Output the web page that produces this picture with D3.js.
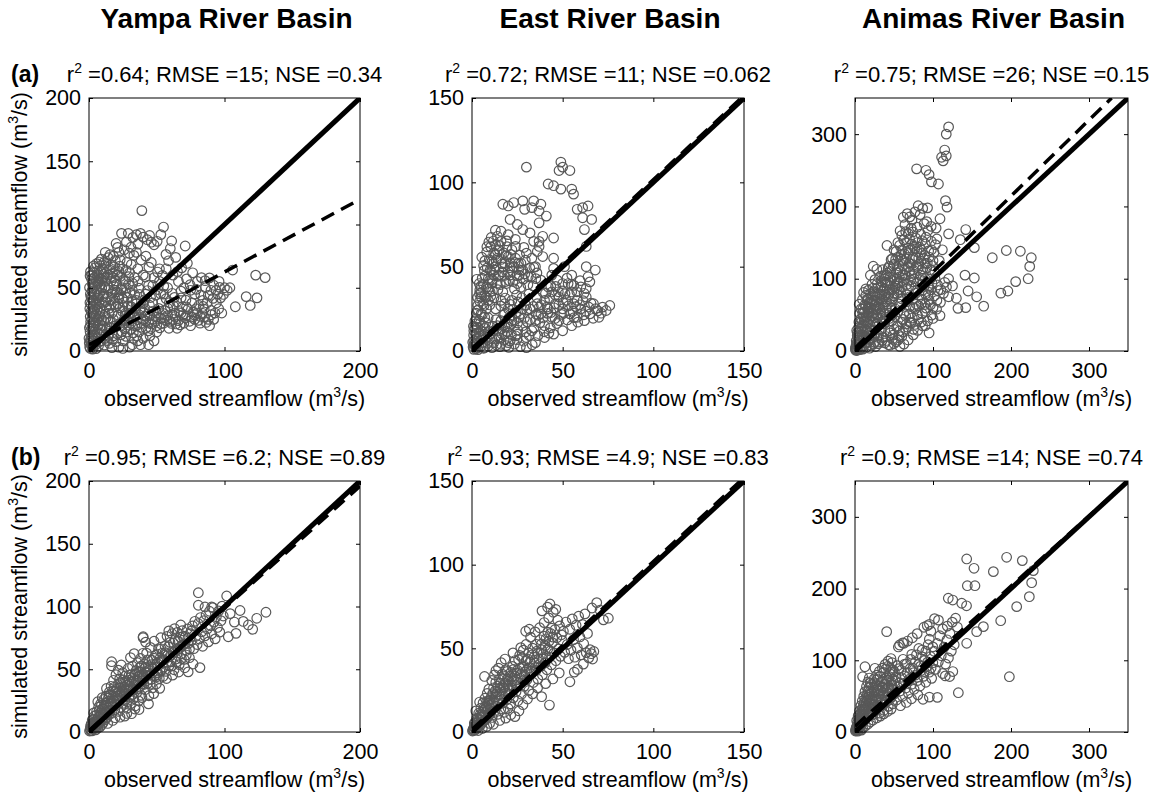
<!DOCTYPE html>
<html>
<head>
<meta charset="utf-8">
<script src="https://cdn.jsdelivr.net/npm/d3@7"></script>
<style>
  body { margin: 0; background: #fff; }
  text { font-family: "Liberation Sans", Arial, sans-serif; fill: #000; }
</style>
</head>
<body>
<div id="chart"></div>
<script>
// basins / columns
const basins = ["Yampa River Basin", "East River Basin", "Animas River Basin"];
const axisMax = [200, 150, 350];
const xTickVals = [[0, 100, 200], [0, 50, 100, 150], [0, 100, 200, 300]];
const yTickVals = [[0, 50, 100, 150, 200], [0, 50, 100, 150], [0, 100, 200, 300]];

// rows
const rowTags = ["(a)", "(b)"];
const r2 = [["0.64", "0.72", "0.75"], ["0.95", "0.93", "0.9"]];
const rmse = [["15", "11", "26"], ["6.2", "4.9", "14"]];
const nse = [["0.34", "0.062", "0.15"], ["0.89", "0.83", "0.74"]];

// regression (dashed) lines: [x0, y0, x1, y1]
const fitA = [[0, 5, 195, 117], [0, 1.5, 148.5, 150], [0, 4, 329, 350]];
const fitB = [[0, 1, 200, 196], [0, 1.5, 148, 150], [0, 8, 350, 350]];

// observed vs simulated points
const yampaA = [[1,2],[2,5],[3,8],[2,12],[4,15],[3,18],[5,22],[2,25],[4,28],[6,32],[3,35],[5,38],[7,42],[4,45],[6,48],[8,52],[5,55],[7,58],[9,62],[6,63],[10,65],[3,40],[8,30],[10,20],[12,10],[11,45],[12,55],[13,35],[14,25],[9,8],[7,4],[15,50],[14,60],[16,40],[1,20],[2,30],[1,45],[3,50],[4,58],[2,60],[11,70],[13,65],[16,68],[12,78],[18,58],[19,48],[17,30],[20,20],[18,12],[15,6],[22,3],[25,8],[6,15],[8,18],[0,10],[1,8],[5,5],[3,2],
  [20,35],[22,42],[24,50],[21,60],[25,65],[23,72],[28,70],[30,62],[27,55],[32,48],[35,40],[30,30],[26,25],[28,15],[33,10],[38,5],[35,20],[40,25],[42,18],[45,28],[38,33],[42,45],[44,52],[40,60],[36,65],[47,38],[48,58],[52,55],[55,45],[50,30],[55,22],[58,28],[60,35],[62,25],[65,18],[68,30],[70,22],[72,28],[75,20],[78,25],[80,30],[82,22],[85,27],[88,25],[90,32],[45,12],[50,15],[30,3],[15,14],[18,25],[25,35],[22,78],[26,80],[20,85],[18,75],[31,82],[24,93],[29,93],[35,92],[38,93],[40,90],[43,88],[46,86],[48,84],[53,92],[55,98],[39,111],[61,87],[60,81],[64,74],[71,83],[57,65],[62,60],[66,55],[70,50],[72,57],[75,48],[78,45],[80,55],[83,58],[86,50],[88,44],[90,48],[92,52],[95,45],[94,38],[97,42],[100,50],[96,55],[102,48],[98,30],[92,25],[85,33],[76,38],[68,42],[58,50],[52,65],[46,70],[42,75],[35,78],
  [106,64],[123,60],[130,58],[116,43],[124,42],[119,36],[108,35],[104,50],
  [24,20],[27,28],[31,22],[34,27],[37,15],[41,32],[44,22],[47,25],[50,20],[53,26],[56,32],[59,18],[63,30],[66,24],[69,35],[73,33],[77,31],[81,36],[84,40],[87,38],[89,20],[93,30],[25,2],[32,5],[36,8],[40,10],[44,5],[48,8],
  [0.5,3.2],[1.7,6.8],[2.4,11.5],[0.8,15.3],[3.6,19.7],[1.2,23.1],[4.8,26.4],[2.9,29.8],[0.6,33.5],[5.5,36.2],[3.1,39.6],[1.4,42.8],[6.3,44.1],[2.2,47.5],[4.4,51.2],[7.1,54.6],[1.9,56.9],[5.8,60.3],[8.6,57.2],[3.7,62.1],[9.4,49.8],[10.7,38.4],[11.9,29.1],[9.2,24.6],[6.9,20.3],[12.8,17.5],[13.6,42.7],[14.9,33.8],[15.7,22.9],[16.4,55.3],[17.2,46.1],[18.8,36.7],[19.5,63.4],[20.3,52.8],[21.6,28.3],[22.4,44.6],[23.1,58.9],[24.7,31.2],[10.2,57.6],[8.3,67.4],[12.5,69.2],[14.1,73.8],[17.9,66.5],[6.4,9.8],[4.1,12.6],[2.6,1.5],[8.8,13.9],[11.3,4.8],[13.7,8.2],[16.9,2.7],[19.8,7.4],[23.6,12.8],[26.3,17.6],[29.5,20.4],[32.7,14.3],[35.8,24.8],[38.9,18.7],[41.3,27.6],[43.8,15.9],[46.2,21.4],[49.7,26.8],[52.3,18.3],[54.8,29.7],[57.4,24.1],[60.9,21.8],[63.6,27.3],[67.2,20.7],[70.8,26.4],[74.3,23.5],[77.6,28.6],[80.7,24.2],[83.9,29.8],[86.4,22.6],[28.6,35.4],[31.8,39.2],[34.5,33.1],[37.3,44.8],[39.8,37.5],[26.9,46.3],[29.2,52.7],[33.6,58.2],[27.4,63.8],[31.2,68.4],[22.7,67.1],[19.4,71.6],[15.6,76.2],[21.1,81.9],[36.8,49.7],[44.6,36.2],[49.3,44.1],[53.6,38.7],[56.9,41.3],[61.4,45.6],[64.8,38.9],[67.9,47.3],[71.5,40.2],[74.6,52.4],[79.2,48.7],[82.5,44.3],[85.7,55.6],[88.9,57.8],[91.6,41.6],[93.8,47.9],[96.4,50.3],[99.2,44.7],[65.3,62.8],[68.4,65.7],[58.7,71.3],[54.2,59.8],[50.6,62.4],[47.1,51.8],[44.2,66.3],[41.7,58.5],[38.4,71.9],[33.1,75.6],[29.8,77.3],[27.6,86.2],[32.4,89.8],[36.1,84.5],[44.7,91.3],[50.3,86.7],[56.8,76.4],[72.6,69.3],[76.5,61.8],[84.3,35.2],[90.2,28.7],[95.7,33.4],[3.3,4.6],[5.2,1.9],[7.7,7.3],[0.3,18.4],[0.9,27.2],[1.6,36.9],[0.4,50.2],[2.8,54.3],[1.1,62.7],[4.6,65.8],[7.4,70.3]];
const yampaADense = [[0.7,38.2],[1.9,41.6],[2.5,52.8],[3.9,46.3],[4.3,33.4],[5.1,29.1],[5.9,41.8],[6.7,53.7],[7.5,37.4],[8.1,45.9],[8.9,33.6],[9.8,55.9],[10.4,43.1],[11.1,60.8],[11.8,50.6],[12.4,38.9],[13.2,58.3],[13.9,48.4],[14.5,29.7],[15.2,64.2],[15.9,36.2],[16.7,44.9],[17.4,61.3],[18.2,51.7],[18.9,41.9],[19.7,55.4],[20.6,46.7],[21.4,37.3],[22.1,62.9],[22.9,34.1],[23.8,48.2],[24.5,41.7],[25.3,55.6],[26.1,38.7],[26.8,29.6],[27.7,49.8],[28.4,42.3],[29.3,58.7],[30.2,45.8],[31.1,35.1],[32.3,53.4],[33.7,44.6],[34.9,37.4],[36.2,55.3],[37.6,31.9],[3.2,22.6],[4.9,17.1],[6.1,24.9],[7.9,27.8],[9.6,16.7],[10.9,23.8],[12.7,26.4],[14.2,12.3],[15.8,18.6],[17.6,9.6],[18.7,19.8],[20.9,13.4],[22.6,21.7],[24.2,15.3],[25.9,23.9],[27.3,11.6],[28.9,27.3],[30.8,16.9],[32.2,30.4],[33.9,19.8],[35.3,12.1],[36.9,28.7],[38.3,21.9],[39.7,30.8],[41.9,23.6],[43.4,29.3],[45.7,17.8],[47.3,31.6],[48.8,23.2],[51.4,33.7],[53.1,21.6],[55.6,26.2],[58.1,33.8],[59.7,23.4],[62.3,35.7],[64.2,21.4],[66.7,31.2],[69.4,28.6],[71.9,34.8],[75.8,26.7],[79.1,33.5],[82.2,27.3],[41.1,40.6],[43.1,47.8],[45.4,42.3],[50.8,48.6],[52.9,45.1],[55.2,51.3],[59.3,38.2],[63.1,42.4],[0.2,6.3],[1.4,9.9],[2.1,17.6],[1.6,31.3],[0.8,59.4],[3.4,67.2],[5.6,69.1],[9.1,72.6]];

const eastA = [[1,1],[2,3],[3,5],[1,6],[4,8],[2,10],[5,12],[3,14],[6,15],[4,18],[7,20],[5,22],[8,25],[6,28],[9,30],[7,33],[10,35],[8,38],[11,40],[9,43],[12,45],[10,48],[13,50],[11,53],[14,55],[12,58],[15,60],[13,63],[16,65],[14,68],[6,5],[8,8],[10,10],[12,12],[14,15],[16,18],[18,22],[9,3],[12,5],[15,8],[18,10],[20,14],[3,2],[5,3],[7,2],[11,2],[16,4],[21,6],[24,9],[20,25],[22,30],[17,35],[19,40],[21,45],[23,50],[18,52],[20,56],[22,60],[24,55],[15,45],[16,30],[13,25],[18,28],[25,40],[26,45],[27,52],[24,62],[7,10],[2,16],[3,24],[5,32],[1,12],[4,40],
  [16,71],[20,69],[28,72],[37,76],[39,68],[37,65],[37,62],[36,59],[45,67],[39,56],[45,55],[45,49],[51,50],[17,87],[20,86],[23,88],[28,89],[29,84],[33,85],[34,89],[38,87],[37,83],[41,80],[30,109],[42,99],[45,98],[49,96],[48,107],[49,112],[50,109],[54,107],[55,96],[56,93],[58,84],[61,85],[64,86],[61,79],[66,78],[62,72],[63,62],[63,50],[64,44],[68,48],[65,41],[63,37],[63,32],[74,24],[76,27],[21,78],[25,75],[32,70],[34,65],[30,58],[33,55],[28,48],[31,44],[35,50],
  [20,5],[25,10],[28,15],[30,8],[33,12],[35,18],[38,22],[40,15],[42,25],[44,20],[46,28],[48,18],[50,25],[52,30],[54,22],[56,28],[58,20],[60,25],[62,18],[65,22],[67,28],[70,20],[72,26],[55,35],[50,40],[55,45],[48,32],[44,35],[40,30],[36,28],[32,25],[26,20],[22,18],[30,2],[35,5],[40,8],[45,10],[50,12],[55,15],[58,30],[60,38],[53,40],[47,42],[42,38],[38,42],[44,45],
  [0.6,2.4],[1.8,4.7],[2.7,7.6],[0.9,9.3],[3.8,11.2],[1.5,13.8],[4.6,16.4],[2.3,19.1],[5.7,21.6],[3.4,24.3],[6.6,26.9],[4.2,29.5],[7.8,31.7],[5.1,34.6],[8.9,36.8],[6.2,39.7],[9.7,41.9],[7.3,44.6],[10.8,46.7],[8.4,49.3],[11.6,51.8],[9.5,54.2],[12.7,56.9],[13.9,59.4],[10.3,61.7],[15.2,62.5],[17.6,58.1],[19.3,61.8],[21.4,57.2],[23.7,52.6],[25.8,48.3],[16.8,46.9],[18.5,41.2],[14.3,36.4],[12.1,31.5],[15.9,26.7],[17.4,21.3],[13.2,18.6],[11.4,14.7],[9.1,11.6],[7.2,13.4],[14.8,11.9],[19.6,16.2],[22.8,24.7],[24.6,33.2],[26.9,37.8],[20.7,41.6],[22.3,47.3],[27.5,31.6],[29.7,27.2],[31.4,33.8],[33.7,38.6],[35.2,42.9],[29.1,45.7],[31.9,49.3],[26.3,56.8],[28.6,61.4],[23.9,66.2],[19.1,65.3],[17.2,49.8],[13.4,3.6],[17.7,6.3],[21.8,9.7],[25.3,12.4],[28.4,5.8],[31.6,9.2],[34.1,13.6],[37.4,16.8],[39.8,11.4],[43.2,13.7],[46.8,16.3],[49.4,21.7],[52.6,18.4],[55.7,23.6],[58.3,17.1],[61.7,21.5],[64.3,26.1],[66.8,19.4],[69.4,23.8],[57.1,26.3],[53.8,33.4],[50.2,28.7],[47.6,35.1],[45.3,25.6],[41.7,22.3],[38.2,27.4],[35.9,31.6],[39.3,34.7],[42.8,31.2],[46.1,38.3],[49.7,35.6],[52.4,43.2],[56.2,38.9],[59.6,41.7],[61.8,34.2],[3.3,0.8],[6.4,1.6],[8.7,4.6],[10.9,7.4],[5.2,6.8],[2.1,1.3],[1.2,3.9],[0.4,5.2],[18.9,3.2],[23.4,4.1],[26.7,2.6],[33.2,3.7],[16.2,13.1],[20.4,19.7],[24.1,22.6],[27.8,24.9],[30.5,17.3],[36.6,21.2],[18.3,31.4],[21.2,27.6],[25.4,29.1],[13.7,40.2],[11.3,35.6],[6.8,47.8],[4.3,36.2],[3.1,31.7],[2.6,42.5],[5.4,55.6],[8.1,58.7],[16.1,54.3],[20.9,49.4]];
const eastADense = [[0.8,14.6],[1.6,17.8],[2.4,22.4],[3.2,27.1],[4.1,33.9],[4.8,38.3],[5.6,43.2],[6.4,50.7],[7.1,53.4],[8.2,61.8],[9.3,64.6],[10.6,67.3],[11.8,65.2],[12.9,71.6],[6.1,8.9],[7.6,16.8],[8.9,19.7],[9.8,27.3],[10.4,32.6],[11.2,42.3],[12.6,48.1],[13.3,53.6],[14.5,44.3],[15.6,39.4],[16.6,51.7],[17.9,44.8],[18.8,56.6],[19.9,47.3],[21.1,52.4],[22.6,41.2],[23.4,36.8],[24.9,44.6],[25.6,52.1],[27.2,47.9],[28.3,42.6],[29.4,53.8],[30.8,39.3],[32.6,44.2],[34.1,49.6],[35.8,46.3],[14.1,7.3],[16.4,10.2],[18.1,14.3],[19.4,11.6],[21.6,15.8],[23.2,18.2],[25.1,16.6],[26.8,22.1],[28.9,19.4],[30.2,24.3],[32.1,18.7],[33.8,26.4],[35.4,21.8],[37.1,25.9],[39.2,19.6],[41.4,26.1],[43.6,22.8],[45.8,19.3],[47.9,27.6],[50.6,22.4],[53.1,26.7],[56.3,19.8],[59.4,27.4],[62.7,23.6],[65.6,28.3],[68.2,25.1],[71.3,22.4],[40.5,34.1],[43.4,38.6],[45.9,33.2],[51.3,33.9],[54.7,39.6],[57.8,35.1],[61.2,29.8],[15.4,2.6],[20.3,2.1],[24.7,6.7],[29.6,11.3],[36.3,9.1],[42.4,10.6]];

const animasA = [[2,2],[4,5],[6,10],[8,4],[10,15],[12,8],[5,18],[14,20],[16,12],[18,25],[3,25],[7,30],[20,30],[22,18],[10,35],[24,40],[12,42],[26,25],[15,48],[28,50],[18,55],[30,35],[8,45],[20,60],[32,58],[22,65],[34,45],[25,70],[36,62],[28,75],[38,52],[30,80],[40,68],[14,62],[6,52],[17,72],[10,58],[24,82],[33,88],[42,75],[44,85],[46,60],[48,72],[35,95],[38,100],[50,80],[52,90],[40,105],[45,110],[54,100],[56,85],[58,95],[42,92],[30,22],[34,30],[38,38],[44,45],[48,50],[52,58],[56,65],[60,72],[20,8],[25,12],[30,10],[35,15],[40,20],[45,25],[50,30],[55,35],[60,40],[65,48],[28,113],[14,86],[11,81],[41,146],[3,12],[1,6],[5,40],[9,22],[13,30],[16,38],[19,45],[23,52],[27,58],[31,65],[35,72],
  [50,120],[55,130],[60,140],[65,150],[70,155],[75,145],[80,150],[85,140],[90,148],[62,125],[68,135],[72,120],[78,130],[82,120],[88,128],[92,115],[58,110],[64,105],[70,110],[76,100],[84,105],[95,130],[98,140],[100,125],[60,160],[65,165],[72,170],[55,150],[50,140],[48,128],[75,112],[80,95],[86,92],[90,100],[94,90],[62,95],[66,85],[72,90],[78,80],[70,75],[62,185],[67,190],[73,181],[81,201],[93,198],[79,252],[91,250],[95,244],[98,234],[107,231],[116,208],[118,199],[92,179],[109,183],[104,170],[120,162],[142,168],[135,154],[153,143],[120,310],[117,300],[115,278],[111,268],[113,263],[117,270],[105,155],[112,140],[108,125],[102,110],
  [141,105],[153,101],[145,83],[156,75],[165,62],[142,60],[132,59],[120,75],[130,73],[109,49],[95,25],[100,60],[105,70],[110,85],[115,95],[95,70],[90,55],[85,65],[80,50],[75,60],[70,40],[65,30],[60,20],[55,15],[50,10],[45,8],[75,30],[85,40],[100,45],[90,35],[120,100],[125,90],
  [176,129],[194,139],[212,138],[226,129],[224,117],[222,100],[206,96],[196,83],[187,80],
  [1.2,4.3],[3.5,8.7],[5.8,3.2],[7.6,13.6],[9.4,6.8],[11.7,19.4],[13.5,11.2],[15.3,27.8],[17.8,16.5],[19.6,35.2],[21.3,22.8],[23.7,9.6],[4.6,32.4],[6.9,38.7],[8.2,27.1],[10.8,47.6],[12.3,53.8],[14.6,41.3],[16.7,57.9],[18.4,67.6],[20.8,48.3],[22.5,76.4],[24.9,56.7],[26.3,63.2],[27.8,38.4],[29.4,46.9],[31.6,71.8],[33.2,52.4],[34.8,78.6],[36.5,41.7],[37.9,86.3],[39.6,59.4],[41.3,64.8],[43.5,79.2],[45.2,93.7],[46.8,68.4],[48.4,101.6],[49.9,76.3],[51.6,86.9],[53.3,108.4],[55.1,94.2],[56.7,117.6],[58.4,81.3],[59.8,126.8],[61.5,104.7],[63.2,134.6],[64.7,113.5],[66.4,92.1],[67.9,142.3],[69.6,121.8],[71.2,98.6],[72.8,147.9],[74.5,129.4],[76.1,106.2],[77.8,156.3],[79.4,137.6],[81.2,114.8],[82.7,143.5],[84.5,124.3],[86.1,152.7],[87.8,108.9],[89.4,132.2],[91.1,157.4],[92.7,121.6],[94.4,138.5],[96.2,112.3],[97.8,151.8],[99.5,117.9],[101.3,136.4],[103.1,147.2],[46.3,126.4],[43.8,117.2],[41.2,107.9],[38.6,95.4],[52.7,137.8],[57.3,146.2],[62.6,153.7],[68.3,162.4],[74.2,164.8],[79.6,171.3],[84.2,161.6],[88.7,176.2],[93.5,166.7],[97.6,172.4],[57.8,166.3],[64.1,174.8],[70.3,185.6],[76.9,192.4],[83.5,188.7],[86.8,197.3],[30.7,12.4],[35.6,18.7],[40.3,14.6],[44.7,28.3],[48.6,21.9],[53.4,33.6],[57.2,27.8],[61.6,43.7],[65.8,37.4],[69.7,51.2],[73.4,45.6],[77.3,58.7],[81.6,62.4],[85.7,71.6],[89.8,64.3],[93.6,77.8],[97.4,84.6],[101.7,76.2],[105.8,91.4],[109.6,67.3],[113.4,79.8],[117.3,88.4],[104.6,57.8],[98.3,49.6],[93.1,41.7],[86.7,34.8],[80.4,28.6],[74.7,22.4],[68.2,15.3],[62.7,9.6],[57.6,6.3],[0.8,1.2],[2.4,0.7],[6.3,1.8],[10.1,2.6],[14.2,4.8],[18.6,3.9],[26.4,6.2],[3.1,18.9],[2.2,28.4],[1.6,14.2],[7.8,58.3],[5.4,64.7],[9.6,71.2],[13.8,76.8],[17.3,84.2],[21.8,92.3],[25.6,98.7],[29.2,87.4],[32.8,103.6],[35.7,112.4],[19.7,104.8],[23.4,117.3]];
const animasADense = [[0.4,3.2],[1.8,9.6],[2.9,21.4],[4.2,15.1],[5.1,26.8],[6.4,21.7],[7.3,44.1],[8.7,33.4],[9.9,52.6],[11.2,39.3],[12.6,63.7],[13.9,47.4],[15.4,71.2],[16.8,52.8],[18.2,61.4],[19.8,79.3],[21.2,70.6],[22.9,86.8],[24.3,49.2],[25.8,77.9],[27.3,67.3],[28.6,93.4],[30.2,59.8],[31.8,78.6],[33.4,97.2],[34.9,68.9],[36.4,83.5],[37.8,104.6],[39.3,77.6],[40.9,93.8],[42.6,114.6],[44.1,71.6],[45.7,102.3],[47.3,84.7],[48.8,117.9],[50.4,96.4],[52.1,126.7],[53.7,79.3],[55.3,112.6],[56.9,102.4],[58.6,132.7],[60.2,88.6],[61.9,118.2],[63.6,98.9],[65.2,127.4],[66.8,77.4],[68.5,116.4],[70.1,139.8],[71.8,104.2],[73.4,126.8],[75.1,95.6],[76.7,141.3],[78.4,117.3],[80.1,84.9],[81.7,128.6],[83.4,99.2],[85.1,134.9],[86.7,113.6],[88.4,89.4],[90.1,121.3],[22.3,28.9],[26.7,33.4],[31.1,29.6],[35.4,37.8],[39.6,44.2],[43.8,52.3],[47.2,41.6],[51.3,47.7],[54.9,54.4],[58.8,61.8],[62.4,52.3],[66.3,68.1],[70.4,61.7],[74.3,71.4],[78.6,64.8],[82.4,77.1],[86.2,83.6],[90.3,78.9],[94.6,88.2],[98.8,93.6],[102.7,99.7],[106.4,83.6],[38.2,11.3],[42.8,8.6],[47.9,16.2],[52.6,12.8],[56.3,21.4],[61.4,26.7],[66.9,33.2],[71.6,38.9],[76.8,36.7],[81.4,43.8],[86.3,51.6],[91.2,59.3],[96.7,63.8]];

const yampaB = [[0.4,0.8],[0.9,2.3],[1.3,1.1],[1.8,3.6],[2.2,0.9],[2.7,4.8],[3.1,2.4],[3.6,6.2],[4.2,3.3],[4.7,8.1],[5.3,4.6],[5.8,9.7],[6.2,5.1],[6.8,11.4],[7.3,6.7],[7.9,13.2],[8.4,8.3],[8.9,15.6],[9.5,9.8],[9.9,18.4],[2.4,9.6],[4.1,12.7],[5.6,16.3],[7.1,19.8],[8.6,22.5],[9.7,27.3],[3.5,15.2],[6.5,24.1],[1.6,6.4],[2.9,7.3],[4.9,1.7],[6.6,3.2],[8.1,4.1],[9.3,5.6],
  [10.4,7.2],[10.8,13.6],[11.3,21.4],[11.7,9.8],[12.2,16.1],[12.6,28.6],[13.1,11.3],[13.5,19.4],[14.1,24.3],[14.6,13.7],[15.0,31.8],[15.4,17.2],[15.9,22.6],[16.3,36.4],[16.8,14.9],[17.2,27.1],[17.7,20.3],[18.1,41.2],[18.6,24.8],[19.0,17.6],[19.5,32.3],[19.9,45.7],[12.9,34.7],[14.8,29.4],[16.6,52.8],[18.4,35.6],[10.9,25.9],[13.8,6.8],[17.5,9.2],[19.3,11.4],
  [20.4,21.3],[20.8,28.7],[21.3,37.9],[21.7,16.4],[22.2,24.6],[22.6,42.3],[23.1,30.1],[23.5,19.7],[24.0,35.8],[24.4,27.4],[24.9,47.2],[25.3,22.8],[25.8,33.6],[26.2,39.4],[26.7,25.3],[27.1,44.8],[27.6,30.7],[28.0,18.9],[28.5,37.2],[28.9,50.6],[29.4,27.8],[29.8,41.3],[21.6,49.3],[23.8,53.4],[26.4,12.7],[27.9,14.8],[29.6,33.4],[22.9,11.8],[25.6,30.2],[28.3,24.1],
  [30.3,36.4],[30.8,22.6],[31.2,45.7],[31.7,29.3],[32.1,52.4],[32.6,33.8],[33.0,26.7],[33.5,41.2],[33.9,18.3],[34.4,37.6],[34.8,48.9],[35.3,31.4],[35.7,55.2],[36.2,40.7],[36.6,24.8],[37.1,44.3],[37.5,35.9],[38.0,58.6],[38.4,29.2],[38.9,47.8],[39.3,38.4],[39.8,62.7],[31.4,14.6],[34.1,20.7],[36.9,17.9],[39.1,27.4],[30.6,59.3],[33.3,62.4],[37.4,51.3],[39.6,43.1],
  [40.3,41.6],[40.9,54.3],[41.4,33.7],[42.0,47.2],[42.5,62.8],[43.1,38.6],[43.6,52.1],[44.2,28.9],[44.7,45.4],[45.3,67.4],[45.8,41.8],[46.4,57.3],[46.9,35.2],[47.5,50.6],[48.0,72.3],[48.6,44.7],[49.1,61.2],[49.7,38.3],[50.2,54.8],[50.8,47.1],[51.3,66.4],[51.9,42.6],[52.4,58.7],[53.0,75.1],[53.5,49.3],[54.1,62.9],[54.6,44.2],[41.8,71.6],[43.9,22.4],[47.8,30.6],[52.2,34.8],[39.9,75.2],
  [55.3,57.4],[56.1,68.7],[56.8,48.3],[57.6,76.2],[58.3,61.5],[59.1,52.7],[59.8,71.4],[60.6,55.9],[61.3,78.3],[62.1,63.4],[62.8,49.6],[63.6,73.8],[64.3,58.2],[65.1,79.4],[65.8,66.1],[66.6,53.7],[67.3,75.6],[68.1,62.3],[68.8,80.7],[69.6,69.4],[70.3,57.8],[71.1,76.3],[71.8,64.9],[72.6,82.1],[73.3,70.6],[74.1,59.2],[74.8,78.4],[57.2,42.6],[61.7,45.3],[66.2,47.8],[70.7,51.2],[58.9,80.6],[63.2,82.4],[67.7,85.3],
  [75.6,72.8],[76.4,84.6],[77.3,66.4],[78.1,88.2],[78.9,76.3],[79.8,69.7],[80.6,86.4],[81.4,74.1],[82.3,91.2],[83.1,79.8],[83.9,68.3],[84.8,88.7],[85.6,76.6],[86.4,93.4],[87.3,82.1],[88.1,71.8],[88.9,96.2],[89.8,84.7],[90.6,78.3],[91.4,99.1],[92.3,87.6],[93.1,74.2],[94.0,91.8],[94.8,83.3],[95.7,96.4],[96.5,79.6],[97.4,88.7],[98.2,100.3],[99.1,92.4],[76.8,54.2],[81.9,51.3],[73.2,47.9],
  [80.7,111],[80.7,101],[85.6,99.6],[90.5,99.6],[101.6,108.4],[130.6,95.4],[123.8,90.6],[117.6,85.3],[120.8,81.8],[102.8,75.9],[108.5,78.6],[40,75.9],[16.7,56],[104.2,94.3],[107.3,87.6],[111.5,96.8],[113.8,88.1]];
const yampaBDense = [[1.1,4.6],[2.0,6.1],[3.4,10.3],[4.4,5.4],[5.5,13.6],[6.4,7.9],[7.6,17.2],[8.7,12.6],[9.2,21.3],[10.1,10.9],[11.5,18.1],[12.4,22.8],[13.4,15.3],[14.3,26.9],[15.2,20.4],[16.1,29.6],[17.0,23.7],[17.9,32.8],[18.8,28.1],[19.7,22.1],[20.6,34.2],[21.5,26.3],[22.4,31.8],[23.3,38.7],[24.2,32.4],[25.1,41.6],[26.0,35.7],[26.9,28.3],[27.8,40.1],[28.7,34.6],[29.6,45.2],[30.5,39.8],[31.4,32.3],[32.3,42.7],[33.2,37.1],[34.1,46.3],[35.0,40.4],[35.9,34.6],[36.8,47.9],[37.7,42.6],[38.6,52.7],[39.5,46.1],[40.6,37.9],[41.5,51.2],[42.4,44.6],[43.3,57.4],[44.2,49.3],[45.1,38.1],[46.0,53.6],[46.9,47.3],[47.8,58.9],[48.7,51.4],[49.6,43.8],[50.5,62.1],[51.4,55.8],[52.3,48.6],[53.2,66.3],[54.1,57.9],[55.0,51.7],[56.2,63.2],[57.4,55.6],[58.6,67.8],[59.8,60.4],[61.0,52.6],[62.2,70.9],[63.4,64.2],[64.6,55.8],[65.8,72.3],[67.0,67.6],[68.2,58.6],[69.4,76.1],[70.6,70.2],[71.8,61.3],[73.0,74.8],[74.2,66.2],[75.4,80.3]];

const eastB = [[0.3,0.6],[0.7,1.8],[1.1,0.9],[1.5,2.7],[1.9,1.4],[2.3,4.1],[2.7,2.2],[3.1,5.6],[3.5,3.1],[3.9,7.3],[4.3,3.8],[4.7,8.9],[5.1,4.6],[5.5,10.4],[5.9,5.9],[6.3,12.1],[6.7,6.8],[7.1,13.8],[7.5,7.7],[7.9,15.6],[8.3,8.4],[8.7,17.2],[9.1,9.6],[9.5,18.9],[9.9,10.7],[1.3,5.4],[2.6,8.1],[3.7,11.2],[4.9,14.3],[6.1,17.4],[7.2,20.2],[8.4,23.1],[9.3,25.6],[2.1,12.6],[4.2,17.9],[6.9,33.2],[3.4,0.9],[5.7,2.1],[8.2,3.4],[9.7,5.1],
  [10.3,14.2],[10.7,21.3],[11.1,8.7],[11.5,17.6],[11.9,26.4],[12.3,12.3],[12.7,20.8],[13.1,29.7],[13.5,15.4],[13.9,23.9],[14.3,10.6],[14.7,18.8],[15.1,31.2],[15.5,26.3],[15.9,13.7],[16.3,21.9],[16.7,34.6],[17.1,17.4],[17.5,28.2],[17.9,11.8],[18.3,24.7],[18.7,37.3],[19.1,19.3],[19.5,31.6],[19.9,14.2],[10.9,30.8],[12.4,34.1],[14.6,38.2],[16.1,41.4],[18.2,43.6],[19.7,27.3],[11.8,4.6],[15.3,6.9],[18.6,8.3],[13.2,36.7],
  [20.3,22.6],[20.8,33.4],[21.3,16.8],[21.8,27.9],[22.3,39.2],[22.8,20.4],[23.3,30.6],[23.8,42.7],[24.3,24.1],[24.8,35.3],[25.3,18.7],[25.8,29.4],[26.3,45.8],[26.8,32.2],[27.3,22.6],[27.8,38.7],[28.3,48.9],[28.8,27.3],[29.3,35.9],[29.8,52.3],[30.3,31.2],[30.8,43.6],[31.3,24.8],[31.8,38.4],[32.3,56.7],[32.8,34.9],[33.3,46.2],[33.8,29.6],[34.3,41.3],[34.8,59.8],[21.4,10.3],[23.7,9.2],[25.9,12.6],[28.1,16.3],[30.6,19.7],[33.4,22.8],[24.6,31.1],[26.9,50.4],[29.6,60.2],[31.6,61.4],[22.6,47.3],
  [35.3,36.8],[35.8,48.3],[36.3,31.6],[36.8,43.7],[37.3,62.3],[37.8,39.2],[38.3,52.6],[38.8,34.1],[39.3,46.8],[39.8,65.4],[40.3,41.3],[40.8,55.7],[41.3,37.2],[41.8,49.6],[42.3,68.2],[42.8,44.8],[43.3,58.9],[43.8,40.1],[44.3,53.4],[44.8,71.6],[45.3,47.3],[45.8,61.2],[46.3,42.6],[46.8,56.3],[47.3,66.8],[47.8,49.7],[48.3,63.4],[48.8,45.2],[49.3,58.1],[49.8,54.6],[38.4,21.1],[42.7,16.1],[36.2,26.4],[40.6,28.9],[44.6,31.7],[48.1,35.3],[43,76.5],[38.6,72.4],[41.7,74.6],[46.2,73.3],
  [50.4,60.2],[51.1,47.6],[51.8,65.7],[52.5,52.3],[53.2,43.8],[53.9,61.4],[54.6,48.9],[55.3,67.6],[56.0,55.2],[56.7,44.7],[57.4,63.8],[58.1,50.3],[58.8,69.2],[59.5,56.8],[60.2,46.1],[60.9,64.3],[61.6,52.7],[62.3,70.6],[63.0,47.4],[63.7,58.9],[64.4,44.3],[65.1,49.2],[65.8,46.8],[66.5,43.6],[67.2,48.1],[54,30],[58.2,37.4],[61.4,40.6],[56.4,35.8],[68.8,77.3],[75.2,68],[72.5,67],[70.6,72.8],[66.2,74.1]];
const eastBDense = [[0.5,1.2],[1.2,3.3],[1.7,5.1],[2.5,3.4],[3.3,7.9],[4.0,5.2],[4.6,10.7],[5.3,7.1],[6.0,9.8],[6.8,14.9],[7.4,11.6],[8.1,18.3],[8.8,13.2],[9.4,16.1],[10.1,19.2],[10.8,16.4],[11.4,22.9],[12.1,18.1],[12.8,24.6],[13.4,21.2],[14.1,27.3],[14.8,22.4],[15.4,29.1],[16.1,24.8],[16.8,31.7],[17.4,26.3],[18.1,33.2],[18.8,28.9],[19.4,36.2],[20.1,30.4],[20.8,25.7],[21.5,35.6],[22.2,30.8],[22.9,37.4],[23.6,33.2],[24.3,28.1],[25.0,36.9],[25.7,43.2],[26.4,38.1],[27.1,34.6],[27.8,44.3],[28.5,39.6],[29.2,31.2],[29.9,42.8],[30.6,37.6],[31.3,47.2],[32.0,41.9],[32.7,36.2],[33.4,50.1],[34.1,44.7],[34.8,38.4],[35.5,52.4],[36.2,46.9],[36.9,40.3],[37.6,55.1],[38.3,49.2],[39.0,43.7],[39.7,57.3],[40.4,51.6],[41.1,45.2],[41.8,59.6],[42.5,54.3],[43.2,48.4],[43.9,62.1],[44.6,56.7]];

const animasB = [[0.6,1.4],[1.3,4.2],[1.9,2.3],[2.6,7.6],[3.2,3.9],[3.9,10.8],[4.5,5.7],[5.2,14.3],[5.8,7.2],[6.5,17.6],[7.1,9.4],[7.8,21.2],[8.4,11.3],[9.1,24.7],[9.7,13.1],[10.4,28.4],[11.0,14.8],[11.7,32.6],[12.3,16.9],[13.0,36.2],[13.6,18.7],[14.3,40.4],[14.9,20.8],[15.6,44.1],[16.2,22.6],[16.9,48.3],[17.5,25.1],[18.2,52.6],[18.8,27.4],[19.5,56.9],[2.2,15.8],[4.1,22.4],[5.9,29.7],[7.6,36.8],[9.3,43.2],[11.2,49.7],[12.8,56.3],[14.7,63.4],[16.4,69.8],[18.3,75.2],[12.8,91],[25.6,88.8],[9.8,77.1],[6.3,3.1],[9.8,5.4],[13.4,8.6],[16.7,11.2],[19.9,14.3],[3.6,1.2],[8.2,2.7],
  [20.6,31.4],[21.7,46.8],[22.8,24.3],[23.9,38.6],[25.0,58.2],[26.1,29.7],[27.2,43.4],[28.3,64.9],[29.4,34.6],[30.5,50.8],[31.6,26.3],[32.7,41.2],[33.8,69.4],[34.9,37.8],[36.0,55.3],[37.1,30.4],[38.2,46.7],[39.3,74.6],[40.4,42.3],[41.5,61.2],[42.6,35.7],[43.7,52.9],[44.8,81.3],[45.9,47.6],[47.0,66.4],[48.1,39.2],[49.2,58.7],[21.3,66.1],[24.4,73.8],[27.7,79.2],[31.3,84.6],[35.2,89.1],[38.7,94.3],[42.3,98.7],[46.1,102.4],[23.2,16.8],[27.9,19.6],[32.4,22.1],[36.8,25.3],[41.6,28.7],[46.3,31.9],[40.6,139.9],[29.8,57.4],[34.4,62.8],[43.2,71.6],[48.7,86.3],
  [50.3,53.4],[51.8,71.2],[53.3,44.7],[54.8,62.6],[56.3,88.4],[57.8,57.2],[59.3,76.3],[60.8,49.8],[62.3,67.9],[63.8,94.7],[65.3,61.4],[66.8,82.6],[68.3,54.3],[69.8,73.8],[71.3,101.2],[72.8,66.7],[74.3,88.9],[75.8,59.6],[77.3,79.4],[78.8,107.6],[80.3,71.8],[81.8,94.2],[83.3,64.1],[84.8,85.7],[86.3,114.3],[87.8,77.6],[89.3,99.8],[90.8,69.3],[92.3,91.2],[93.8,121.7],[95.3,83.4],[96.8,105.2],[98.3,74.8],[99.8,96.6],[55.6,118.6],[61.2,124.3],[67.4,126.8],[73.6,131.4],[79.7,137.2],[88.3,146.1],[92.6,148.4],[95.4,150.2],[97.2,140.6],[58.3,36.7],[65.8,41.2],[72.4,46.3],[80.6,51.8],[87.2,45.6],[95.3,48.7],[57.1,121.3],[62.8,123.7],
  [101.4,112.6],[103.2,87.3],[105.1,123.4],[106.9,97.8],[108.7,134.2],[110.6,106.4],[112.4,81.6],[114.3,118.3],[116.1,94.7],[118.0,128.6],[119.8,103.2],[121.7,137.4],[123.5,112.8],[125.4,84.3],[127.2,121.6],[107,156],[102,158],[115.8,78.2],[121.3,77.4],[105.6,48.3],[132.5,54.8],[112.4,143.8],[118.3,147.6],[124.7,153.2],[131.2,146.3],
  [197.9,77.1],[119.6,186.5],[125.3,184],[136.8,179.5],[143,176],[129,158.6],[143.2,123.7],[156,139.9],[164.6,146.9],[186.8,155.2],[207.3,174.8],[223.5,188.7],[226.5,208.2],[228.6,225],[177.4,223.6],[194.4,243.6],[214.5,239],[143.2,241.3],[152.6,228.3],[144,204],[153.8,204]];
const animasBDense = [[0.9,3.1],[1.6,6.7],[2.4,4.8],[3.1,12.6],[3.8,8.2],[4.6,18.1],[5.4,11.4],[6.1,23.6],[6.9,15.2],[7.6,27.4],[8.3,18.6],[9.1,31.9],[9.9,22.1],[10.6,36.4],[11.4,25.8],[12.1,41.7],[12.9,29.6],[13.7,46.8],[14.4,33.2],[15.2,51.6],[15.9,37.1],[16.7,57.3],[17.4,40.6],[18.2,61.8],[18.9,44.2],[19.7,68.3],[20.5,39.7],[21.4,55.2],[22.3,44.6],[23.2,61.7],[24.1,50.3],[25.0,68.8],[25.9,54.6],[26.8,36.2],[27.7,59.1],[28.6,73.4],[29.5,46.3],[30.4,63.9],[31.3,52.8],[32.2,77.6],[33.1,57.4],[34.0,42.1],[34.9,71.3],[35.8,61.6],[36.7,83.2],[37.6,51.4],[38.5,66.8],[39.4,87.9],[40.3,56.7],[41.2,72.4],[42.1,91.6],[43.0,61.8],[43.9,77.3],[44.8,47.2],[45.7,88.6],[46.6,69.4],[47.5,96.8],[48.4,73.2],[49.3,52.3],[50.4,83.9],[52.6,76.4],[54.8,92.6],[57.1,68.3],[59.3,86.1],[61.6,101.4],[63.8,78.2],[66.1,94.8],[68.3,71.6],[70.6,88.4],[72.8,108.3],[75.1,82.7],[77.3,97.3],[79.6,76.1],[81.8,116.4],[84.1,91.8],[86.3,104.7],[88.6,84.2],[90.8,112.6],[93.1,97.4],[95.3,129.3],[97.6,89.3],[99.8,118.7]];

const pointsA = [yampaA.concat(yampaADense), eastA.concat(eastADense), animasA.concat(animasADense)];
const pointsB = [yampaB.concat(yampaBDense), eastB.concat(eastBDense), animasB.concat(animasBDense)];

const W = 1151, H = 797;
const colX = [[89, 360], [472, 744], [855, 1128]];
const rowY = [[98, 351], [481, 732]];
const font = '"Liberation Sans", Arial, sans-serif';

const svg = d3.select("#chart").append("svg")
    .attr("width", W)
    .attr("height", H);

// column titles
basins.forEach((b, c) => {
    svg.append("text")
        .attr("x", (colX[c][0] + colX[c][1]) / 2 + 2)
        .attr("y", 28)
        .attr("text-anchor", "middle")
        .style("font-size", "28px")
        .style("font-weight", "bold")
        .text(b);
});

const addSup = (sel, before, sup, after, size, supSize) => {
    sel.append("tspan").text(before);
    sel.append("tspan").attr("dy", -size * 0.4).style("font-size", supSize + "px").text(sup);
    sel.append("tspan").attr("dy", size * 0.4).text(after);
};

const drawPanel = (row, col, pts, fit) => {
    const [x0, x1] = colX[col];
    const [y0, y1] = rowY[row];
    const max = axisMax[col];
    const x = d3.scaleLinear().domain([0, max]).range([x0, x1]);
    const y = d3.scaleLinear().domain([0, max]).range([y1, y0]);
    const g = svg.append("g");

    const clipId = `clip-${row}-${col}`;
    g.append("clipPath").attr("id", clipId)
        .append("rect")
        .attr("x", x0).attr("y", y0)
        .attr("width", x1 - x0).attr("height", y1 - y0);

    // scatter
    g.append("g")
        .selectAll("circle")
        .data(pts)
        .enter()
        .append("circle")
        .attr("cx", d => x(d[0]))
        .attr("cy", d => y(d[1]))
        .attr("r", 4.8)
        .attr("fill", "none")
        .attr("stroke", "#585858")
        .attr("stroke-width", 1.2);

    const lines = g.append("g").attr("clip-path", `url(#${clipId})`);
    // 1:1 line
    lines.append("line")
        .attr("x1", x(0)).attr("y1", y(0))
        .attr("x2", x(max)).attr("y2", y(max))
        .attr("stroke", "#000")
        .attr("stroke-width", 5);
    // regression line
    lines.append("line")
        .attr("x1", x(fit[0])).attr("y1", y(fit[1]))
        .attr("x2", x(fit[2])).attr("y2", y(fit[3]))
        .attr("stroke", "#000")
        .attr("stroke-width", 3.5)
        .attr("stroke-dasharray", "14,8");

    // axes with inward ticks
    const styleAxis = (a) => {
        a.select(".domain").remove();
        a.selectAll("line").attr("stroke", "#000");
        a.selectAll("text")
            .style("font-family", font)
            .style("font-size", "21.5px")
            .attr("fill", "#000");
    };
    g.append("g")
        .attr("transform", `translate(0,${y1})`)
        .call(d3.axisBottom(x).tickValues(xTickVals[col]).tickSize(-4).tickPadding(12))
        .call(styleAxis);
    g.append("g")
        .attr("transform", `translate(${x0},0)`)
        .call(d3.axisLeft(y).tickValues(yTickVals[col]).tickSize(-4).tickPadding(8))
        .call(styleAxis);
    g.append("g")
        .attr("transform", `translate(0,${y0})`)
        .call(d3.axisTop(x).tickValues(xTickVals[col]).tickSize(-4).tickFormat(""))
        .call(styleAxis);
    g.append("g")
        .attr("transform", `translate(${x1},0)`)
        .call(d3.axisRight(y).tickValues(yTickVals[col]).tickSize(-4).tickFormat(""))
        .call(styleAxis);

    g.append("rect")
        .attr("x", x0).attr("y", y0)
        .attr("width", x1 - x0).attr("height", y1 - y0)
        .attr("fill", "none")
        .attr("stroke", "#000")
        .attr("stroke-width", 1);

    // stats line
    const st = g.append("text")
        .attr("x", (x0 + x1) / 2)
        .attr("y", y0 - 16)
        .attr("text-anchor", "middle")
        .style("font-size", "22px");
    addSup(st, "r", "2", ` =${r2[row][col]}; RMSE =${rmse[row][col]}; NSE =${nse[row][col]}`, 22, 14);

    // x label
    const xl = g.append("text")
        .attr("x", (x0 + x1) / 2 + 10)
        .attr("y", y1 + 55)
        .attr("text-anchor", "middle")
        .style("font-size", "21.5px");
    addSup(xl, "observed streamflow (m", "3", "/s)", 21.5, 14);

    if (col === 0) {
        const yl = g.append("text")
            .attr("transform", `translate(27,${(y0 + y1) / 2}) rotate(-90)`)
            .attr("text-anchor", "middle")
            .style("font-size", "21.5px");
        addSup(yl, "simulated streamflow (m", "3", "/s)", 21.5, 14);

        g.append("text")
            .attr("x", 11)
            .attr("y", y0 - 16)
            .style("font-size", "23px")
            .style("font-weight", "bold")
            .text(rowTags[row]);
    }
};

[0, 1, 2].forEach(c => {
    drawPanel(0, c, pointsA[c], fitA[c]);
    drawPanel(1, c, pointsB[c], fitB[c]);
});
</script>
</body>
</html>
